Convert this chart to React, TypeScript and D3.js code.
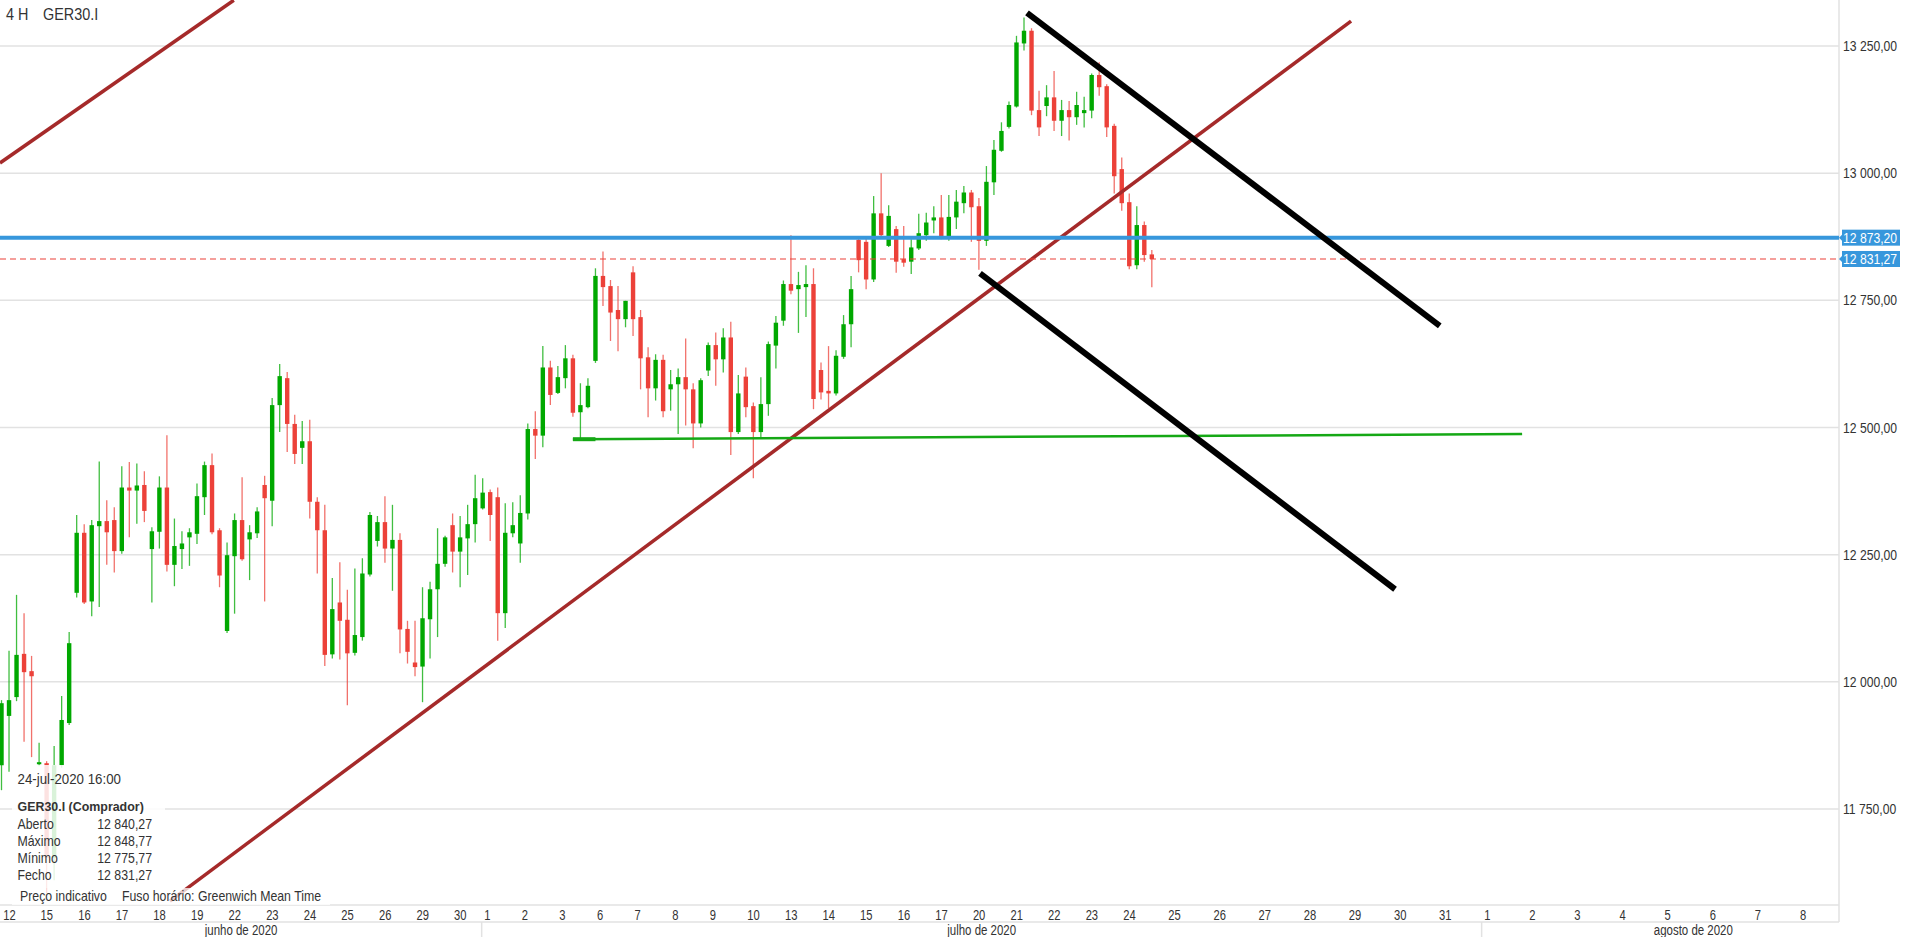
import * as d3 from "d3";

// trading days shown on the time axis, with the number of 4H slots each one takes
const dayLabels = [
  "12", "15", "16", "17", "18", "19", "22", "23", "24", "25", "26", "29", "30",
  "1", "2", "3", "6", "7", "8", "9", "10", "13", "14", "15", "16", "17", "20", "21", "22", "23", "24",
  "25", "26", "27", "28", "29", "30", "31",
  "1", "2", "3", "4", "5", "6", "7", "8",
];
const daySlots = [
  5, 5, 5, 5, 5, 5, 5, 5, 5, 5, 5, 5, 4,
  5, 5, 5, 5, 5, 5, 5, 5, 5, 5, 5, 5, 5, 5, 5, 5, 5, 6,
  6, 6, 6, 6, 6, 6, 6,
  6, 6, 6, 6, 6, 6, 6, 6,
];
const monthLabels = ["junho de 2020", "julho de 2020", "agosto de 2020"];
const monthFirstDay = [0, 13, 38];

const priceTicks = [11750, 12000, 12250, 12500, 12750, 13000, 13250];

// GER30.I 4H candles, 12 jun 2020 00:00 -> 24 jul 2020 16:00
const opens = [
  11836, 11933, 11970, 12055, 12021,
  11838, 11840, 11654, 11836, 11919, 12175, 12293, 12158, 12306, 12316,
  12318, 12257, 12382, 12376, 12387, 12261, 12295, 12382, 12230, 12261,
  12284, 12291, 12363, 12426, 12298, 12100, 12247, 12318, 12280, 12292,
  12387, 12356, 12544, 12597, 12507, 12460, 12473, 12354, 12298, 12054,
  12156, 12122, 12057, 12088, 12211, 12277, 12314, 12262, 12279, 12104,
  12038, 12030, 12123, 12182, 12232, 12308, 12256, 12282, 12310,
  12341, 12373, 12363, 12135, 12292, 12272, 12331, 12497, 12484, 12618,
  12568, 12597, 12636, 12530, 12540, 12631, 12798, 12778, 12731, 12713,
  12805, 12717, 12638, 12577, 12633, 12575, 12585, 12599, 12575, 12508,
  12612, 12662, 12634, 12677, 12491, 12600, 12542, 12491, 12546, 12661,
  12710, 12782, 12772, 12776, 12782, 12613, 12572, 12567, 12639, 12703,
  12869, 12865, 12791, 12921, 12857, 12890, 12831, 12826, 12852, 12878,
  12907, 12913, 12874, 12913, 12941, 12962, 12935, 12867, 12982, 13044,
  13091, 13131, 13255, 13280, 13124, 13132, 13149, 13103, 13124, 13110,
  13118, 13123, 13193, 13171, 13093, 13008, 12943, 12819, 12898, 12840.27,
];
const highs = [
  11964, 12061, 12171, 12135, 12051,
  11880, 11844, 11874, 11972, 12098, 12328, 12310, 12318, 12433, 12357,
  12343, 12424, 12432, 12429, 12414, 12304, 12404, 12485, 12321, 12296,
  12302, 12390, 12433, 12449, 12302, 12274, 12331, 12402, 12308, 12343,
  12405, 12558, 12625, 12609, 12525, 12513, 12515, 12363, 12348, 12204,
  12235, 12181, 12223, 12243, 12334, 12326, 12365, 12348, 12292, 12120,
  12120, 12186, 12197, 12302, 12287, 12331, 12326, 12348, 12407,
  12400, 12378, 12382, 12351, 12353, 12367, 12508, 12532, 12660, 12631,
  12621, 12662, 12643, 12587, 12597, 12813, 12846, 12790, 12778, 12749,
  12817, 12731, 12658, 12644, 12643, 12613, 12616, 12675, 12587, 12597,
  12667, 12687, 12695, 12708, 12603, 12618, 12549, 12599, 12669, 12719,
  12789, 12878, 12806, 12819, 12813, 12628, 12660, 12652, 12721, 12798,
  12876, 12876, 12955, 13000, 12937, 12896, 12896, 12870, 12920, 12922,
  12935, 12957, 12957, 12967, 12975, 12967, 12951, 13014, 13065, 13100,
  13141, 13270, 13306, 13285, 13162, 13173, 13201, 13144, 13142, 13160,
  13150, 13196, 13218, 13175, 13097, 13031, 12960, 12935, 12905, 12848.77,
];
const lows = [
  11787, 11823, 11962, 11882, 11852,
  11834, 11585, 11610, 11831, 11915, 12166, 12153, 12129, 12147, 12230,
  12215, 12252, 12284, 12311, 12314, 12156, 12262, 12217, 12188, 12222,
  12228, 12271, 12328, 12290, 12186, 12096, 12134, 12238, 12200, 12283,
  12158, 12306, 12491, 12452, 12428, 12428, 12321, 12213, 12031, 12046,
  12044, 11954, 12052, 12081, 12207, 12266, 12234, 12179, 12056, 12036,
  12011, 11960, 12046, 12088, 12226, 12215, 12186, 12210, 12274,
  12339, 12277, 12081, 12106, 12284, 12234, 12319, 12438, 12461, 12544,
  12566, 12577, 12521, 12477, 12538, 12627, 12739, 12670, 12650, 12697,
  12680, 12575, 12520, 12553, 12520, 12533, 12487, 12504, 12459, 12500,
  12601, 12582, 12608, 12446, 12487, 12520, 12400, 12481, 12523, 12616,
  12700, 12762, 12686, 12717, 12536, 12555, 12538, 12563, 12635, 12658,
  12805, 12772, 12786, 12872, 12855, 12804, 12816, 12802, 12849, 12867,
  12882, 12870, 12867, 12890, 12921, 12865, 12810, 12857, 12957, 13042,
  13088, 13129, 13241, 13114, 13073, 13112, 13083, 13073, 13064, 13095,
  13090, 13108, 13152, 13071, 12960, 12926, 12811, 12811, 12826, 12775.77,
];
const closes = [
  11958, 11964, 12053, 12019, 12011,
  11842, 11654, 11836, 11925, 12076, 12293, 12156, 12308, 12316, 12294,
  12257, 12382, 12376, 12386, 12336, 12296, 12382, 12230, 12267, 12272,
  12294, 12365, 12426, 12294, 12209, 12249, 12318, 12241, 12294, 12335,
  12361, 12544, 12601, 12507, 12448, 12473, 12354, 12298, 12053, 12143,
  12120, 12056, 12092, 12213, 12328, 12314, 12262, 12279, 12103, 12059,
  12029, 12125, 12182, 12232, 12284, 12256, 12284, 12310, 12361,
  12372, 12328, 12135, 12293, 12308, 12332, 12497, 12484, 12618, 12564,
  12599, 12636, 12529, 12544, 12582, 12798, 12776, 12726, 12713, 12749,
  12713, 12636, 12577, 12633, 12532, 12585, 12599, 12575, 12508, 12593,
  12662, 12634, 12677, 12491, 12567, 12540, 12491, 12546, 12664, 12706,
  12782, 12769, 12780, 12782, 12556, 12569, 12567, 12641, 12703, 12772,
  12829, 12791, 12921, 12878, 12916, 12826, 12824, 12854, 12882, 12903,
  12913, 12874, 12914, 12944, 12962, 12933, 12867, 12983, 13046, 13083,
  13134, 13257, 13280, 13123, 13090, 13149, 13103, 13124, 13110, 13134,
  13124, 13193, 13169, 13090, 12994, 12941, 12817, 12898, 12839, 12831.27,
];

// drawings, as (slot, price) end points
const brownLineA = [[-0.2, 13020], [30.9, 13340]];
const brownLineB = [[22.4, 11569], [179.5, 13299]];
const blackLineC = [[136.4, 13315], [191.3, 12700]];
const blackLineD = [[130.15, 12803], [185.35, 12182]];
const greenLine = [[76.0, 12477], [202.25, 12487]];
const greenHandle = [[76.0, 12477], [79.0, 12477]];
const blueLevel = 12873.2;
const lastPrice = 12831.27;

const infoRows = [
  ["Aberto", 12840.27],
  ["Máximo", 12848.77],
  ["Mínimo", 12775.77],
  ["Fecho", 12831.27],
];

const W = 1905;
const H = 937;
const plotRight = 1839;
const plotBottom = 905;
const dateRowBottom = 922;
const GREEN = "#00a800";
const RED = "#ec4139";
const GRID = "#e2e2e2";
const INK = "#333";

const fmt = d3
  .formatLocale({ decimal: ",", thousands: " ", grouping: [3], currency: ["", ""] })
  .format(",.2f");

function T({ x, y, sx = 0.88, size = 14, anchor = "start", weight = 400, fill = INK, children }: any) {
  return (
    <text
      transform={`translate(${x},${y}) scale(${sx},1)`}
      fontSize={size}
      textAnchor={anchor}
      fontWeight={weight}
      fill={fill}
    >
      {children}
    </text>
  );
}

export default function App() {
  const x = d3.scaleLinear().domain([-0.2, 244.4]).range([0, plotRight]);
  const y = d3.scaleLinear().domain([11750, 13250]).range([809, 46]);
  const seg = d3
    .line<number[]>()
    .x((d) => x(d[0]))
    .y((d) => y(d[1]));

  const dayStarts = d3.cumsum([0, ...daySlots]).slice(0, daySlots.length);
  const gridX = dayStarts.map((s) => x(s) - 1);
  const monthBounds = monthFirstDay.map((d, i) => {
    const a = Math.max(0, gridX[d]);
    const b = i + 1 < monthFirstDay.length ? gridX[monthFirstDay[i + 1]] : W;
    return { a, b, sep: gridX[d] };
  });

  const bodyW = 4.4;

  return (
    <svg
      width={W}
      height={H}
      style={{ position: "absolute", left: 0, top: 0, background: "#fff" }}
      fontFamily="'Liberation Sans', Arial, sans-serif"
    >
      <defs>
        <clipPath id="plot">
          <rect x={0} y={0} width={plotRight} height={plotBottom} />
        </clipPath>
      </defs>
      <rect width={W} height={H} fill="#fff" />

      {/* grid */}
      {gridX.map((gx, i) =>
        gx > 2 ? <line key={"v" + i} x1={gx} x2={gx} y1={0} y2={dateRowBottom} stroke={GRID} strokeWidth={1.5} /> : null,
      )}
      {priceTicks.map((p) => (
        <line key={"h" + p} x1={0} x2={plotRight} y1={y(p)} y2={y(p)} stroke={GRID} strokeWidth={1.5} />
      ))}
      <line x1={0} x2={plotRight} y1={plotBottom} y2={plotBottom} stroke={GRID} strokeWidth={1.5} />
      <line x1={0} x2={plotRight} y1={dateRowBottom} y2={dateRowBottom} stroke={GRID} strokeWidth={1.5} />
      <line x1={plotRight} x2={plotRight} y1={0} y2={dateRowBottom} stroke={GRID} strokeWidth={1.5} />
      {monthBounds.map((m, i) =>
        m.sep > 2 ? (
          <line key={"ms" + i} x1={m.sep} x2={m.sep} y1={dateRowBottom} y2={H} stroke={GRID} strokeWidth={1.5} />
        ) : null,
      )}

      {/* candles */}
      <g clipPath="url(#plot)">
        {opens.map((o, i) => {
          const c = closes[i];
          const up = c >= o;
          const col = up ? GREEN : RED;
          const cx = x(i);
          const top = y(Math.max(o, c));
          const h = Math.max(1.2, Math.abs(y(o) - y(c)));
          return (
            <g key={"c" + i}>
              <line x1={cx} x2={cx} y1={y(highs[i])} y2={y(lows[i])} stroke={col} strokeWidth={1.3} strokeOpacity={0.75} />
              <rect x={cx - bodyW / 2} y={top} width={bodyW} height={h} fill={col} />
            </g>
          );
        })}

        {/* drawings */}
        <path d={seg(brownLineA) ?? ""} stroke="#a52a2a" strokeWidth={3.5} fill="none" />
        <path d={seg(brownLineB) ?? ""} stroke="#a52a2a" strokeWidth={3.5} fill="none" />
        <line x1={0} x2={plotRight} y1={y(lastPrice)} y2={y(lastPrice)} stroke={RED} strokeWidth={1.2} strokeDasharray="6,4" />
        <line x1={0} x2={plotRight} y1={y(blueLevel)} y2={y(blueLevel)} stroke="#3797dc" strokeWidth={4} />
        <path d={seg(greenLine) ?? ""} stroke="#15a815" strokeWidth={2.5} fill="none" />
        <path d={seg(greenHandle) ?? ""} stroke="#15a815" strokeWidth={4} fill="none" />
        <path d={seg(blackLineC) ?? ""} stroke="#000" strokeWidth={6} fill="none" />
        <path d={seg(blackLineD) ?? ""} stroke="#000" strokeWidth={6} fill="none" />
      </g>

      {/* price axis */}
      {priceTicks.map((p) => (
        <T key={"pl" + p} x={1843} y={y(p) + 5} sx={0.87}>
          {fmt(p)}
        </T>
      ))}
      {[blueLevel, lastPrice].map((p) => (
        <g key={"tag" + p}>
          <path
            d={`M${plotRight},${y(p)} L${plotRight + 4},${y(p) - 4} L${plotRight + 4},${y(p) + 4} Z`}
            fill="#3797dc"
          />
          <rect x={plotRight + 3} y={y(p) - 8} width={58} height={16} fill="#3797dc" />
          <T x={1843} y={y(p) + 5} sx={0.87} fill="#fff">
            {fmt(p)}
          </T>
        </g>
      ))}

      {/* time axis */}
      {dayLabels.map((d, i) => (
        <T key={"dl" + i} x={Math.max(3.3, gridX[i] + 2.5)} y={919.5} sx={0.8}>
          {d}
        </T>
      ))}
      {monthBounds.map((m, i) => (
        <T key={"ml" + i} x={(m.a + m.b) / 2} y={934.5} sx={0.82} anchor="middle">
          {monthLabels[i]}
        </T>
      ))}

      {/* header */}
      <T x={6} y={19.5} size={16} sx={0.9}>4 H</T>
      <T x={43} y={19.5} size={16} sx={0.9}>GER30.I</T>

      {/* info box */}
      <rect x={12} y={765} width={153} height={123} fill="#fff" fillOpacity={0.85} />
      <rect x={12} y={888} width={318} height={17} fill="#fff" fillOpacity={0.75} />
      <T x={17.5} y={784} sx={0.95}>24-jul-2020 16:00</T>
      <T x={17.5} y={810.5} sx={0.92} size={13.5} weight={700}>GER30.I (Comprador)</T>
      {infoRows.map(([label, v], i) => (
        <g key={"ir" + i}>
          <T x={17.5} y={828.5 + i * 17.3}>{label}</T>
          <T x={152} y={828.5 + i * 17.3} anchor="end">{fmt(v as number)}</T>
        </g>
      ))}
      <T x={20} y={901}>Preço indicativo</T>
      <T x={122} y={901}>Fuso horário: Greenwich Mean Time</T>
    </svg>
  );
}
